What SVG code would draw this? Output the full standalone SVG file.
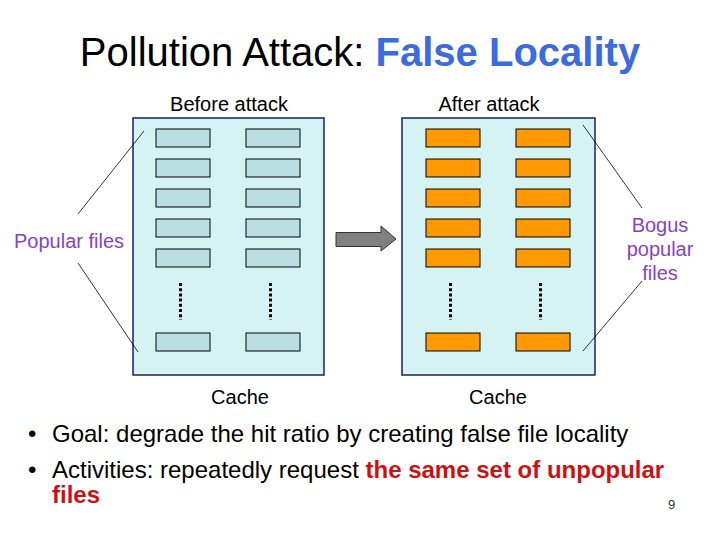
<svg xmlns="http://www.w3.org/2000/svg" width="720" height="540" viewBox="0 0 720 540">
<style>
text{font-family:"Liberation Sans",Arial,sans-serif}
.cache{fill:#d5f3f3;stroke:#1c1c6c;stroke-width:1.5}
.pf{fill:#b9dfe2;stroke:#000;stroke-width:1}
.bf{fill:#ff9900;stroke:#000;stroke-width:1}
.dots{stroke:#000;stroke-width:3;stroke-dasharray:3 2.2;fill:none}
.lead{stroke:#000;stroke-width:0.8;fill:none}
.lbl{font-size:20px;fill:#000}
.pur{font-size:20px;fill:#8a3fc8}
.bul{font-size:24px;fill:#000}
.red{fill:#d01010;font-weight:bold}
</style>
<rect width="720" height="540" fill="#fff"/>
<text x="360" y="66" text-anchor="middle" font-size="40" fill="#000">Pollution Attack: <tspan fill="#3a6be0" font-weight="bold">False Locality</tspan></text>

<g id="before-cache">
<rect class="cache" x="133" y="118" width="191" height="257"/>
<rect class="pf" x="156" y="129" width="54" height="18"/>
<rect class="pf" x="246" y="129" width="54" height="18"/>
<rect class="pf" x="156" y="159" width="54" height="18"/>
<rect class="pf" x="246" y="159" width="54" height="18"/>
<rect class="pf" x="156" y="189" width="54" height="18"/>
<rect class="pf" x="246" y="189" width="54" height="18"/>
<rect class="pf" x="156" y="219" width="54" height="18"/>
<rect class="pf" x="246" y="219" width="54" height="18"/>
<rect class="pf" x="156" y="249" width="54" height="18"/>
<rect class="pf" x="246" y="249" width="54" height="18"/>
<line class="dots" x1="180.5" y1="283" x2="180.5" y2="320"/>
<line class="dots" x1="270.5" y1="283" x2="270.5" y2="320"/>
<rect class="pf" x="156" y="333" width="54" height="18"/>
<rect class="pf" x="246" y="333" width="54" height="18"/>
<text class="lbl" x="229" y="111" text-anchor="middle">Before attack</text>
<text class="lbl" x="240" y="404" text-anchor="middle">Cache</text>
</g>

<g id="after-cache">
<rect class="cache" x="402" y="118" width="193" height="257"/>
<rect class="bf" x="426" y="129" width="54" height="18"/>
<rect class="bf" x="516" y="129" width="54" height="18"/>
<rect class="bf" x="426" y="159" width="54" height="18"/>
<rect class="bf" x="516" y="159" width="54" height="18"/>
<rect class="bf" x="426" y="189" width="54" height="18"/>
<rect class="bf" x="516" y="189" width="54" height="18"/>
<rect class="bf" x="426" y="219" width="54" height="18"/>
<rect class="bf" x="516" y="219" width="54" height="18"/>
<rect class="bf" x="426" y="249" width="54" height="18"/>
<rect class="bf" x="516" y="249" width="54" height="18"/>
<line class="dots" x1="450.5" y1="283" x2="450.5" y2="320"/>
<line class="dots" x1="540.5" y1="283" x2="540.5" y2="320"/>
<rect class="bf" x="426" y="333" width="54" height="18"/>
<rect class="bf" x="516" y="333" width="54" height="18"/>
<text class="lbl" x="489" y="111" text-anchor="middle">After attack</text>
<text class="lbl" x="498" y="404" text-anchor="middle">Cache</text>
</g>

<g id="popular-label">
<text class="pur" x="14" y="248">Popular files</text>
</g>
<g id="bogus-label">
<text class="pur" x="660" y="232" text-anchor="middle">Bogus</text>
<text class="pur" x="660" y="256" text-anchor="middle">popular</text>
<text class="pur" x="660" y="280" text-anchor="middle">files</text>
</g>

<g id="connectors">
<line class="lead" x1="78" y1="214" x2="144" y2="131"/>
<line class="lead" x1="78" y1="263" x2="138" y2="352"/>
<line class="lead" x1="583" y1="125" x2="642" y2="208"/>
<line class="lead" x1="642" y1="281" x2="583" y2="351"/>
<polygon points="336,232.5 381,232.5 381,226 396,239 381,251 381,246.5 336,246.5" fill="#808080" stroke="#333" stroke-width="1"/>
</g>

<g id="bullets">
<text class="bul" x="28" y="442">•</text>
<text class="bul" x="52" y="442">Goal: degrade the hit ratio by creating false file locality</text>
<text class="bul" x="28" y="478">•</text>
<text class="bul" x="52" y="478">Activities: repeatedly request <tspan class="red">the same set of unpopular</tspan></text>
<text class="bul red" x="52" y="503">files</text>
<text x="668" y="509" font-size="13" fill="#333">9</text>
</g>
</svg>
